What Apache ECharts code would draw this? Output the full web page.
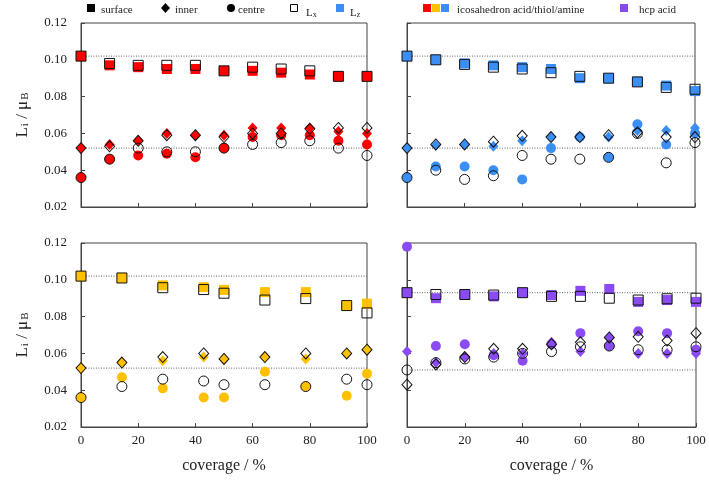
<!DOCTYPE html>
<html><head><meta charset="utf-8">
<script src="https://cdn.jsdelivr.net/npm/echarts@6/dist/echarts.min.js"></script>
<style>html,body{margin:0;padding:0;background:#fff}#c{width:709px;height:486px}</style>
</head><body><div id="c"></div>
<script>
// ---------- data ----------
const coverage10 = [0,10,20,30,40,50,60,70,80,90,100];
const coverageThiol = [0,14.3,28.6,42.9,50,64.3,78.6,92.9,100];

// icosahedron acid (red)
const acidSurfX   = [0.102,0.098,0.097,0.097,0.097,0.094,0.096,0.095,0.094,0.091,0.091];
const acidSurfZ   = [0.102,0.097,0.096,0.095,0.095,0.094,0.094,0.093,0.092,0.091,0.091];
const acidInnerX  = [0.052,0.053,0.056,0.059,0.059,0.058,0.060,0.060,0.0625,0.063,0.063];
const acidInnerZ  = [0.052,0.054,0.056,0.060,0.059,0.059,0.063,0.063,0.063,0.061,0.060];
const acidCentreX = [0.036,0.046,0.052,0.050,0.050,0.052,0.054,0.055,0.056,0.052,0.048];
const acidCentreZ = [0.036,0.046,0.048,0.049,0.047,0.052,0.058,0.059,0.059,0.056,0.054];

// icosahedron amine (blue)
const amineSurfX   = [0.102,0.100,0.0975,0.096,0.095,0.093,0.091,0.090,0.088,0.085,0.084];
const amineSurfZ   = [0.102,0.100,0.098,0.097,0.096,0.095,0.090,0.090,0.088,0.086,0.083];
const amineInnerX  = [0.052,0.054,0.054,0.0555,0.0587,0.058,0.058,0.059,0.0605,0.058,0.058];
const amineInnerZ  = [0.052,0.0536,0.054,0.053,0.056,0.058,0.058,0.058,0.0616,0.0616,0.063];
const amineCentreX = [0.036,0.040,0.035,0.037,0.048,0.046,0.046,0.047,0.060,0.044,0.055];
const amineCentreZ = [0.036,0.042,0.042,0.040,0.035,0.052,0.058,0.047,0.065,0.054,0.060];

// icosahedron thiol (yellow)
const thiolSurfX   = [0.102,0.101,0.0957,0.0947,0.0927,0.089,0.0898,0.086,0.082];
const thiolSurfZ   = [0.102,0.101,0.097,0.096,0.0945,0.0933,0.0933,0.086,0.087];
const thiolInnerX  = [0.052,0.055,0.058,0.060,0.057,0.058,0.060,0.060,0.062];
const thiolInnerZ  = [0.052,0.055,0.056,0.058,0.057,0.058,0.057,0.060,0.062];
const thiolCentreX = [0.036,0.042,0.046,0.045,0.043,0.043,0.042,0.046,0.043];
const thiolCentreZ = [0.036,0.047,0.041,0.036,0.036,0.050,0.042,0.037,0.049];

// hcp acid (purple)
const hcpSurfX   = [0.093,0.092,0.092,0.0917,0.093,0.091,0.091,0.090,0.089,0.0897,0.090];
const hcpSurfZ   = [0.093,0.090,0.092,0.091,0.093,0.0917,0.094,0.095,0.088,0.089,0.088];
const hcpInnerX  = [0.043,0.054,0.058,0.0625,0.0625,0.065,0.066,0.0687,0.069,0.067,0.071];
const hcpInnerZ  = [0.061,0.055,0.058,0.060,0.060,0.066,0.061,0.0687,0.060,0.060,0.060];
const hcpCentreX = [0.051,0.055,0.057,0.058,0.060,0.061,0.0636,0.064,0.062,0.062,0.0636];
const hcpCentreZ = [0.118,0.064,0.065,0.059,0.056,0.065,0.071,0.064,0.072,0.071,0.062];

// bare-cluster reference lines (high = surface, low = inner)
const refHigh = [0.102,0.102,0.102,0.093];
const refLow  = [0.052,0.052,0.052,0.051];

const yTicks = [0.02,0.04,0.06,0.08,0.10,0.12];
const xTicks = [0,20,40,60,80,100];

// ---------- chart ----------
const FONT = "'Liberation Serif','DejaVu Serif',serif";
const AX = '#444';
const colors = ['#ff0000','#3b8ef4','#ffc000','#8a4cf2'];
const panels = [
  {cov: coverage10, sx: acidSurfX, sz: acidSurfZ, ix: acidInnerX, iz: acidInnerZ, cx: acidCentreX, cz: acidCentreZ},
  {cov: coverage10, sx: amineSurfX, sz: amineSurfZ, ix: amineInnerX, iz: amineInnerZ, cx: amineCentreX, cz: amineCentreZ},
  {cov: coverageThiol, sx: thiolSurfX, sz: thiolSurfZ, ix: thiolInnerX, iz: thiolInnerZ, cx: thiolCentreX, cz: thiolCentreZ},
  {cov: coverage10, sx: hcpSurfX, sz: hcpSurfZ, ix: hcpInnerX, iz: hcpInnerZ, cx: hcpCentreX, cz: hcpCentreZ}
];
const grids = [
  {left: 81, top: 23, width: 286, height: 184},
  {left: 407, top: 23, width: 288, height: 184},
  {left: 81, top: 243, width: 286, height: 184},
  {left: 407, top: 243, width: 289, height: 184}
];
const pts = (xs, ys) => xs.map((x, i) => [x, ys[i]]);
const xMin = xTicks[0], xMax = xTicks[xTicks.length-1];

const series = [];
panels.forEach((p, k) => {
  const col = colors[k];
  [refHigh[k], refLow[k]].forEach(v => series.push({
    type: 'line', xAxisIndex: k, yAxisIndex: k, z: 1, silent: true, symbol: 'none',
    data: [[xMin, v], [xMax, v]],
    lineStyle: {color: '#666', width: 1, type: [1, 1.5]}
  }));
  const shapes = [['rect', 10, p.sz, p.sx], ['diamond', [10, 11], p.iz, p.ix], ['circle', 10, p.cz, p.cx]];
  shapes.forEach(([sym, size, z, x]) => {
    series.push({type: 'scatter', xAxisIndex: k, yAxisIndex: k, z: 2, symbol: sym, symbolSize: size,
      data: pts(p.cov, z), itemStyle: {color: col, opacity: 1}});
  });
  shapes.forEach(([sym, size, z, x]) => {
    series.push({type: 'scatter', xAxisIndex: k, yAxisIndex: k, z: 3, symbol: sym, symbolSize: size,
      data: pts(p.cov, x), itemStyle: {color: 'rgba(255,255,255,0)', borderColor: '#111', borderWidth: 1, opacity: 1}});
  });
});

const yName = 'L{s|i} / μ{s|B}';
const xAxes = grids.map((g, k) => ({
  type: 'value', gridIndex: k, min: xMin, max: xMax, interval: 20,
  axisLine: {show: true, lineStyle: {color: AX}},
  axisTick: {show: true, inside: true, length: 4, lineStyle: {color: AX}},
  splitLine: {show: false},
  axisLabel: {show: k >= 2, color: '#222', fontFamily: FONT, fontSize: 13, margin: 7},
  name: k >= 2 ? 'coverage / %' : '', nameLocation: 'middle', nameGap: 31,
  nameTextStyle: {color: '#222', fontFamily: FONT, fontSize: 16}
}));
const yAxes = grids.map((g, k) => ({
  type: 'value', gridIndex: k, min: yTicks[0], max: yTicks[yTicks.length-1], interval: 0.02,
  axisLine: {show: true, lineStyle: {color: AX}},
  axisTick: {show: true, inside: true, length: 4, lineStyle: {color: AX}},
  splitLine: {show: false},
  axisLabel: {show: k % 2 === 0, color: '#222', fontFamily: FONT, fontSize: 13, margin: 14,
    formatter: v => v.toFixed(2)},
  name: k % 2 === 0 ? yName : '', nameLocation: 'middle', nameGap: 50,
  nameTextStyle: {color: '#222', fontFamily: FONT, fontSize: 17,
    rich: {s: {fontFamily: FONT, fontSize: 11, verticalAlign: 'bottom', lineHeight: 11, padding: [8, 0, 0, 1], color: '#222'}}}
}));

const ly = 8;
const tStyle = (t, x) => ({type: 'text', left: x, top: ly - 3, style: {text: t, font: '11px ' + FONT, fill: '#222'}});
const graphic = [
  {type: 'rect', shape: {x: 87, y: ly - 4, width: 8, height: 8}, style: {fill: '#000'}},
  tStyle('surface', 101),
  {type: 'polygon', shape: {points: [[165.5, ly - 5], [170, ly], [165.5, ly + 5], [161, ly]]}, style: {fill: '#000'}},
  tStyle('inner', 175),
  {type: 'circle', shape: {cx: 231, cy: ly, r: 4}, style: {fill: '#000'}},
  tStyle('centre', 238),
  {type: 'rect', shape: {x: 290.5, y: ly - 3.5, width: 7, height: 7}, style: {fill: '#fff', stroke: '#000', lineWidth: 1}},
  {type: 'text', left: 306, top: ly - 3, style: {text: 'L{s|x}', font: '11px ' + FONT, fill: '#222',
    rich: {s: {font: '8px ' + FONT, fill: '#222', verticalAlign: 'bottom', lineHeight: 8, padding: [6, 0, 0, 0]}}}},
  {type: 'rect', shape: {x: 336, y: ly - 4, width: 8, height: 8}, style: {fill: colors[1]}},
  {type: 'text', left: 350, top: ly - 3, style: {text: 'L{s|z}', font: '11px ' + FONT, fill: '#222',
    rich: {s: {font: '8px ' + FONT, fill: '#222', verticalAlign: 'bottom', lineHeight: 8, padding: [6, 0, 0, 0]}}}},
  {type: 'rect', shape: {x: 423, y: ly - 4, width: 8, height: 8}, style: {fill: colors[0]}},
  {type: 'rect', shape: {x: 432, y: ly - 4, width: 8, height: 8}, style: {fill: colors[2]}},
  {type: 'rect', shape: {x: 441, y: ly - 4, width: 8, height: 8}, style: {fill: colors[1]}},
  tStyle('icosahedron acid/thiol/amine', 457),
  {type: 'rect', shape: {x: 620, y: ly - 4, width: 8, height: 8}, style: {fill: colors[3]}},
  tStyle('hcp acid', 639)
];

const chart = echarts.init(document.getElementById('c'), null, {renderer: 'canvas'});
chart.setOption({
  animation: false,
  backgroundColor: '#fff',
  grid: grids.map(g => Object.assign({show: true, borderColor: AX, borderWidth: 1, backgroundColor: 'transparent'}, g)),
  xAxis: xAxes,
  yAxis: yAxes,
  series: series,
  graphic: graphic
});
</script></body></html>
